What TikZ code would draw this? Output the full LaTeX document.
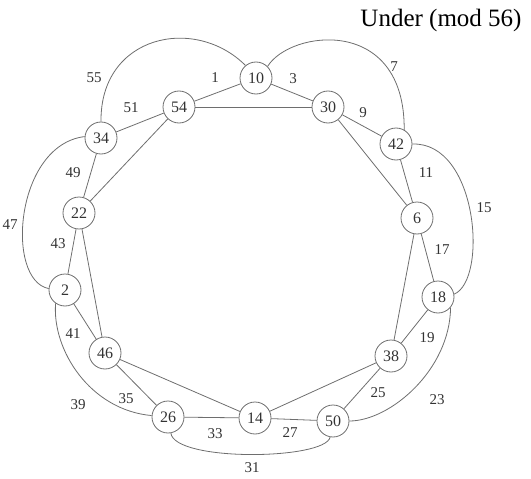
\documentclass[tikz,border=0pt]{standalone}
\usepackage{fontspec}
\setmainfont{Liberation Serif}
\usetikzlibrary{calc}
\definecolor{edgegray}{HTML}{6E6E6E}
\definecolor{labelgray}{HTML}{333333}
\tikzset{
  vertex/.style={circle,draw=edgegray,line width=0.8pt,minimum size=32pt,inner sep=0pt,
    font=\fontsize{16}{16}\selectfont,text=labelgray},
  wlabel/.style={font=\fontsize{15}{15}\selectfont,text=labelgray},
  link/.style={draw=edgegray,line width=0.8pt}
}

\begin{document}
\begin{tikzpicture}[x=1pt,y=-1pt]
  \useasboundingbox (0,0) rectangle (531,479);
  \foreach \v/\px/\py in {10/256/78,54/179/107,30/328/107,34/101/138,42/396/144,22/79/213,
      6/417/218,2/65/290,18/438/297,46/105/353,38/391/356,26/168/417,14/255/418,50/333/421}
    \node[vertex] (n\v) at (\px,\py) {\v};
  \foreach \a/\b in {54/10,10/30,54/30,54/34,54/22,30/42,30/6,34/22,42/6,22/2,22/46,
      6/18,6/38,2/46,18/38,46/26,46/14,38/50,38/14,26/14,14/50}
    \draw[link] (n\a) -- (n\b);
  \draw[link] (n34.north) .. controls (100,35) and (195,15) .. (n10.130);
  \draw[link] (n10.45) .. controls (290,30) and (405,15) .. (n42.60);
  \draw[link] (n42.east) .. controls (478,142) and (488,280) .. (n18.10);
  \draw[link] (n18.-40) .. controls (450,370) and (390,421) .. (n50.east);
  \draw[link] (n50.-100) .. controls (325,460) and (175,462) .. (n26.-80);
  \draw[link] (n26.175) .. controls (90,410) and (52,350) .. (n2.-125);
  \draw[link] (n34.175) .. controls (15,145) and (5,280) .. (n2.175);
  \foreach \t/\px/\py in {55/94/78,1/215/78,51/131/108,49/73/173,43/58/244,47/10/225,
      3/293/79,7/394/67,9/363/113,11/426/173,15/484/208,17/442/250,19/427/338,
      25/378/393,23/437/400,27/290/433,41/73/334,39/78/405,35/126/399,33/215/434,31/252/468}
    \node[wlabel] (w\t) at (\px,\py) {\t};
  \node[font=\fontsize{25}{25}\selectfont] (title) at (441,20) {Under (mod 56)};
\end{tikzpicture}
\end{document}
